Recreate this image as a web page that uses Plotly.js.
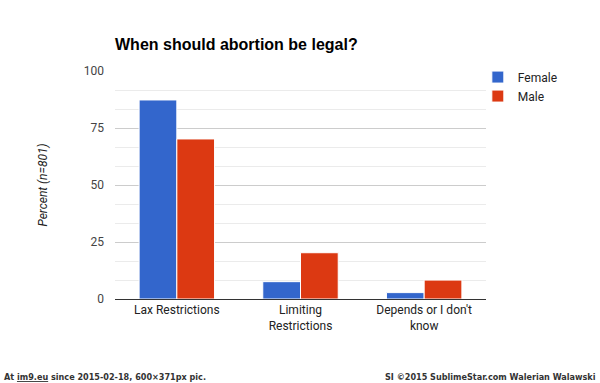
<!DOCTYPE html>
<html><head><meta charset="utf-8">
<script src="https://cdn.plot.ly/plotly-3.0.1.min.js"></script>
<style>html,body{margin:0;padding:0;background:#fff}#chart{width:600px;height:383px}</style>
</head><body><div id="chart"></div>
<script>
const categories = ["Lax Restrictions", "Limiting<br>Restrictions", "Depends or I don't<br>know"];
const female = [87.3, 7.6, 2.8];
const male = [70.2, 20.3, 8.3];
const seriesNames = ["Female", "Male"];
const yTicks = [0, 25, 50, 75, 100];

const traces = [
  {type:'bar', name:seriesNames[0], x:categories, y:female, marker:{color:'#3366cc', line:{color:'#fff', width:1}}},
  {type:'bar', name:seriesNames[1], x:categories, y:male, marker:{color:'#dc3912', line:{color:'#fff', width:1}}}
];
const PW = 371, PH = 228, L = 115;
const layout = {
  width:600, height:383,
  margin:{l:L, r:600-L-PW, t:71, b:383-71-PH},
  paper_bgcolor:'#fff', plot_bgcolor:'#fff',
  font:{family:'Roboto, Arial, sans-serif', size:12, color:'#222'},
  title:{text:'<b>When should abortion be legal?</b>', x:115/600, xanchor:'left', y:1-44/383, yanchor:'middle',
    font:{family:'Liberation Sans, Arial, sans-serif', size:16, color:'#000'}},
  barmode:'group', bargap:0.39, bargroupgap:0,
  xaxis:{showgrid:false, showline:true, linecolor:'#333', linewidth:1, ticks:'', tickfont:{size:12, color:'#222'}},
  yaxis:{range:[0,100], tickvals:yTicks, ticktext:yTicks.map(String), showgrid:true, gridcolor:'#cccccc', gridwidth:1,
    minor:{dtick:25/3, showgrid:true, gridcolor:'#ebebeb', gridwidth:1, tick0:0},
    zeroline:false, ticks:'', ticklabelstandoff:10, tickfont:{size:12, color:'#444'},
    title:{text:'<i>Percent (n=801)</i>', standoff:33, font:{size:12, color:'#222'}}},
  legend:{x:0.978, xanchor:'left', y:1.037, yanchor:'top', font:{size:12, color:'#222'}, itemwidth:30, tracegroupgap:2, bgcolor:'rgba(0,0,0,0)'},
  showlegend:true,
  annotations:[
    {text:'<b>At <u>im9.eu</u> since 2015-02-18, 600×371px pic.</b>', xref:'paper', yref:'paper', x:(2-L)/PW, xanchor:'left', y:-(377-299)/PH, yanchor:'middle', showarrow:false,
     font:{family:'DejaVu Sans Condensed, sans-serif', size:9, color:'#333'}},
    {text:'<b>SI ©2015 SublimeStar.com Walerian Walawski</b>', xref:'paper', yref:'paper', x:(598-L)/PW, xanchor:'right', y:-(377-299)/PH, yanchor:'middle', showarrow:false,
     font:{family:'DejaVu Sans Condensed, sans-serif', size:9, color:'#333'}}
  ]
};
Plotly.newPlot('chart', traces, layout, {displayModeBar:false, staticPlot:true});
</script></body></html>
